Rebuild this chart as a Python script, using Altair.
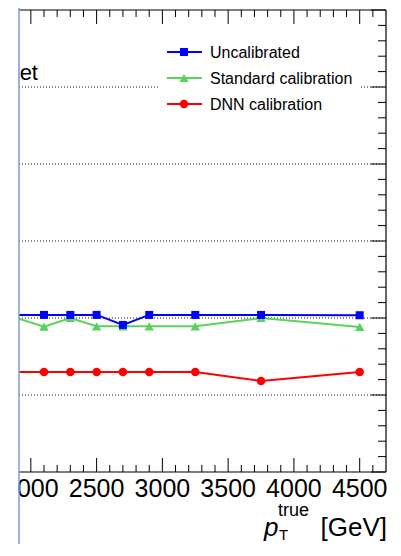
import altair as alt
import pandas as pd

# ---- data ----
pt = [1800, 2100, 2300, 2500, 2700, 2900, 3250, 3750, 4500]
uncal = [0.102, 0.102, 0.102, 0.102, 0.0955, 0.102, 0.102, 0.102, 0.1018]
std = [0.1025, 0.0944, 0.1, 0.0946, 0.0946, 0.0946, 0.0946, 0.1, 0.0942]
dnn = [0.065, 0.065, 0.065, 0.065, 0.065, 0.065, 0.065, 0.0591, 0.065]

series_names = ["Uncalibrated", "Standard calibration", "DNN calibration"]
series_values = [uncal, std, dnn]
series_colors = ["#0000ff", "#5ad35a", "#ff0000"]
series_shapes = ["square", "triangle-up", "circle"]
series_sizes = [64, 90, 72]

x_major = [2000, 2500, 3000, 3500, 4000, 4500]
x_labels = ["2000", "2500", "3000", "3500", "4000", "4500"]
x_minor = [2100, 2200, 2300, 2400, 2600, 2700, 2800, 2900, 3100, 3200, 3300, 3400,
           3600, 3700, 3800, 3900, 4100, 4200, 4300, 4400, 4600]
y_grid = [0.05, 0.10, 0.15, 0.20, 0.25]
y_major = [0.0, 0.05, 0.10, 0.15, 0.20, 0.25, 0.30]
y_minor = [0.01, 0.02, 0.03, 0.04, 0.06, 0.07, 0.08, 0.09, 0.11, 0.12, 0.13, 0.14,
           0.16, 0.17, 0.18, 0.19, 0.21, 0.22, 0.23, 0.24, 0.26, 0.27, 0.28, 0.29]

W, H = 367, 462
FONT = "Liberation Sans"

xs = alt.Scale(domain=[1910, 4700], nice=False, zero=False)
ys = alt.Scale(domain=[0.0, 0.3], nice=False, zero=False)

one = pd.DataFrame({"a": [0]})

layers = []

# dotted horizontal grid
layers.append(alt.Chart(pd.DataFrame({"g": y_grid})).mark_rule(
    color="#000000", strokeWidth=1, strokeDash=[1, 2], opacity=0.9).encode(
    y=alt.Y("g:Q", scale=ys, axis=None), x=alt.value(0), x2=alt.value(W)))

# data series (drawn red, green, blue so blue is on top)
for name, vals, col, shp, sz in reversed(list(zip(series_names, series_values, series_colors,
                                                  series_shapes, series_sizes))):
    df = pd.DataFrame({"pt": pt, "v": vals})
    layers.append(alt.Chart(df).mark_line(color=col, strokeWidth=2, clip=True).encode(
        x=alt.X("pt:Q", scale=xs, axis=None), y=alt.Y("v:Q", scale=ys, axis=None)))
    layers.append(alt.Chart(df).mark_point(color=col, fill=col, filled=True, opacity=1, size=sz,
                                           shape=shp, clip=True).encode(
        x=alt.X("pt:Q", scale=xs, axis=None), y=alt.Y("v:Q", scale=ys, axis=None)))

# legend box (white, no border)
layers.append(alt.Chart(one).mark_rect(color="white").encode(
    x=alt.value(141), x2=alt.value(341), y=alt.value(25), y2=alt.value(112)))

for i, (name, col, shp, sz) in enumerate(zip(series_names, series_colors, series_shapes, series_sizes)):
    ly = 42 + 26 * i
    ldf = pd.DataFrame({"label": [name]})
    layers.append(alt.Chart(ldf).mark_rule(color=col, strokeWidth=2).encode(
        x=alt.value(148), x2=alt.value(183), y=alt.value(ly)))
    layers.append(alt.Chart(ldf).mark_point(color=col, fill=col, filled=True, opacity=1, size=sz,
                                            shape=shp).encode(x=alt.value(165), y=alt.value(ly)))
    layers.append(alt.Chart(ldf).mark_text(align="left", baseline="middle", fontSize=16, font=FONT,
                                           color="black").encode(
        x=alt.value(191), y=alt.value(ly + 1), text="label:N"))

# tick marks (inside the frame)
def xticks(vals, y0, y1):
    return alt.Chart(pd.DataFrame({"t": vals})).mark_rule(color="black", strokeWidth=1).encode(
        x=alt.X("t:Q", scale=xs, axis=None), y=alt.value(y0), y2=alt.value(y1))

def yticks(vals, x0, x1):
    return alt.Chart(pd.DataFrame({"t": vals})).mark_rule(color="black", strokeWidth=1).encode(
        y=alt.Y("t:Q", scale=ys, axis=None), x=alt.value(x0), x2=alt.value(x1))

layers += [xticks(x_major, 0, 14), xticks(x_minor, 0, 7),
           xticks(x_major, H, H - 14), xticks(x_minor, H, H - 7),
           yticks(y_major, W, W - 15), yticks(y_minor, W, W - 8)]

# x tick labels
layers.append(alt.Chart(pd.DataFrame({"t": x_major, "lab": x_labels})).mark_text(
    align="center", baseline="alphabetic", fontSize=25, font=FONT, color="black").encode(
    x=alt.X("t:Q", scale=xs, axis=None), y=alt.value(H + 25), text="lab:N"))

# frame: top, right, bottom
layers.append(alt.Chart(one).mark_rule(color="black", strokeWidth=1.2).encode(
    x=alt.value(0), x2=alt.value(W), y=alt.value(0)))
layers.append(alt.Chart(one).mark_rule(color="black", strokeWidth=1.2).encode(
    x=alt.value(0), x2=alt.value(W), y=alt.value(H)))
layers.append(alt.Chart(one).mark_rule(color="black", strokeWidth=1.2).encode(
    x=alt.value(W), y=alt.value(0), y2=alt.value(H)))

# top-left label (cut by the crop)
layers.append(alt.Chart(pd.DataFrame({"s": ["jet"]})).mark_text(
    align="right", baseline="alphabetic", fontSize=22, font=FONT, color="black").encode(
    x=alt.value(19), y=alt.value(70), text="s:N"))

# crop edge: white cover and light blue line
layers.append(alt.Chart(one).mark_rect(color="white").encode(
    x=alt.value(-11), x2=alt.value(-0.5), y=alt.value(-2), y2=alt.value(540)))
layers.append(alt.Chart(one).mark_rule(color="#7f9dd6", strokeWidth=1.5).encode(
    x=alt.value(0), y=alt.value(-2), y2=alt.value(540)))

# x-axis title p_T^true [GeV]
def txt(s, x, y, size, align="left", style="normal"):
    return alt.Chart(pd.DataFrame({"s": [s]})).mark_text(
        align=align, baseline="alphabetic", fontSize=size, font=FONT, fontStyle=style,
        color="black").encode(x=alt.value(x), y=alt.value(y), text="s:N")

layers += [txt("[GeV]", 368, 526, 26, align="right"),
           txt("p", 245, 526, 26, style="italic"),
           txt("true", 259, 506, 18),
           txt("T", 260, 530, 15)]

chart = alt.layer(*layers).properties(
    width=W, height=H,
    autosize=alt.AutoSizeParams(type="none"),
    padding={"left": 11, "top": 2, "right": 2, "bottom": 72},
).configure_view(stroke=None)

chart.save("out.html", embed_options={"renderer": "svg", "actions": False})
